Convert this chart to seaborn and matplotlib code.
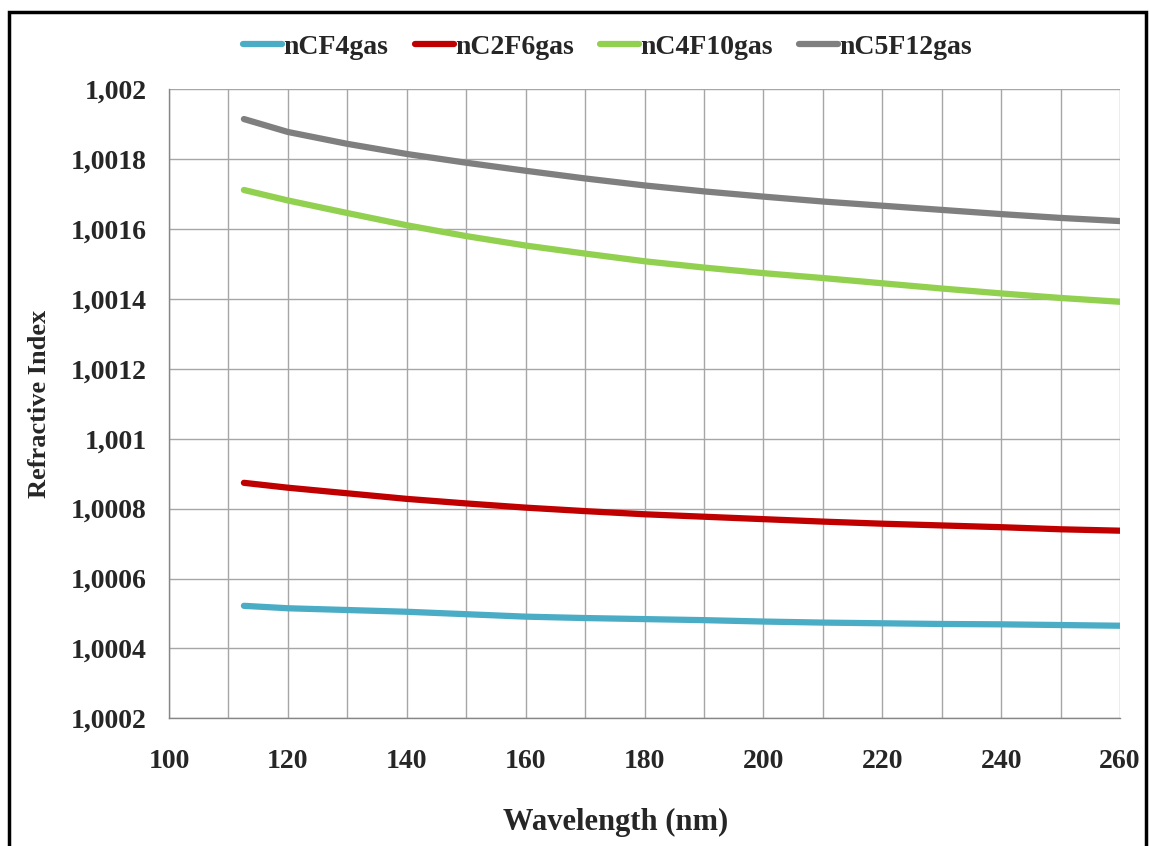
import numpy as np
import pandas as pd
import seaborn as sns
import matplotlib.pyplot as plt
from matplotlib.patches import Rectangle
from matplotlib.ticker import FuncFormatter, MultipleLocator

# --- data ---
wavelength = [112.6, 120, 130, 140, 150, 160, 170, 180, 190, 200, 210, 220, 230, 240, 250, 260]
n_cf4 = [1.000522, 1.000515, 1.000510, 1.000505, 1.000498, 1.000491, 1.000487, 1.000484,
         1.000481, 1.000477, 1.000474, 1.000472, 1.000470, 1.000469, 1.000467, 1.000465]
n_c2f6 = [1.000874, 1.000860, 1.000844, 1.000828, 1.000815, 1.000803, 1.000793, 1.000784,
          1.000777, 1.000770, 1.000763, 1.000757, 1.000752, 1.000747, 1.000741, 1.000737]
n_c4f10 = [1.001712, 1.001682, 1.001646, 1.001611, 1.001580, 1.001553, 1.001530, 1.001508,
           1.001490, 1.001474, 1.001460, 1.001445, 1.001430, 1.001416, 1.001403, 1.001392]
n_c5f12 = [1.001915, 1.001878, 1.001844, 1.001815, 1.001790, 1.001767, 1.001745, 1.001725,
           1.001708, 1.001693, 1.001679, 1.001667, 1.001655, 1.001643, 1.001632, 1.001623]

series_names = ["nCF4gas", "nC2F6gas", "nC4F10gas", "nC5F12gas"]
colors = ["#4bacc6", "#c00000", "#92d050", "#7f7f7f"]

frames = []
for name, vals in zip(series_names, [n_cf4, n_c2f6, n_c4f10, n_c5f12]):
    frames.append(pd.DataFrame({"Wavelength": wavelength, "n": vals, "gas": name}))
df = pd.concat(frames, ignore_index=True)

sns.set_theme(style="white")
plt.rcParams['font.family'] = ['Liberation Serif', 'DejaVu Serif']
plt.rcParams['font.weight'] = 'bold'

fig = plt.figure(figsize=(11.49, 8.46), dpi=100)
fig.subplots_adjust(left=0.1471, right=0.9748, top=0.8944, bottom=0.1509)
ax = fig.add_subplot(111)

sns.lineplot(data=df, x="Wavelength", y="n", hue="gas", hue_order=series_names,
             palette=colors, linewidth=4.5, ax=ax, legend=False, sort=True)

ax.set_xlim(100, 260)
ax.set_ylim(1.0002, 1.002)
ax.xaxis.set_major_locator(MultipleLocator(20))
ax.xaxis.set_minor_locator(MultipleLocator(10))
ax.yaxis.set_major_locator(MultipleLocator(0.0002))
ax.yaxis.set_major_formatter(FuncFormatter(lambda v, p: ('%g' % v).replace('.', ',')))

ax.grid(which='both', axis='x', color='#a6a6a6', linewidth=1.0)
ax.grid(which='major', axis='y', color='#a6a6a6', linewidth=1.0)
ax.set_axisbelow(True)
for side in ['top', 'right']:
    ax.spines[side].set_visible(False)
for side in ['left', 'bottom']:
    ax.spines[side].set_color('#868686')
    ax.spines[side].set_linewidth(1.0)

ax.tick_params(axis='both', which='major', direction='out', length=7, width=1,
               color='#868686', labelsize=20)
ax.tick_params(axis='x', which='major', pad=15)
ax.tick_params(axis='y', which='major', pad=9)
ax.tick_params(axis='x', which='minor', length=0)
for lab in ax.get_xticklabels() + ax.get_yticklabels():
    lab.set_fontweight('bold')

ax.set_xlabel("Wavelength (nm)", fontsize=22, fontweight='bold')
ax.xaxis.set_label_coords(0.47, -0.143)
ax.set_ylabel("Refractive Index", fontsize=19, fontweight='bold', labelpad=14)

handles = [plt.Line2D([], [], color=c, linewidth=4.5) for c in colors]
fig.legend(handles, series_names, loc='center', bbox_to_anchor=(0.529, 0.944), ncol=4,
           frameon=False, handlelength=1.4, handletextpad=0.05, columnspacing=0.95,
           prop={'size': 20, 'weight': 'bold'})

fig.patches.append(Rectangle((9 / 1149, -0.05), (1146 - 9) / 1149, 0.9858 + 0.05,
                             transform=fig.transFigure, fill=False, edgecolor='black',
                             linewidth=2.5))

fig.savefig("out.png", dpi=100)
